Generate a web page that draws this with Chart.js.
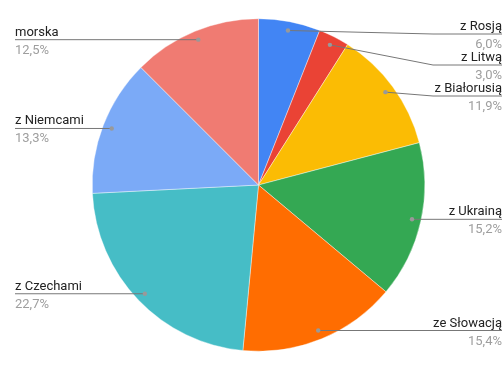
<!DOCTYPE html>
<html>
<head>
<meta charset="utf-8">
<script src="https://cdn.jsdelivr.net/npm/chart.js@4"></script>
<style>
  body { margin: 0; background: #fff; }
</style>
</head>
<body>
<canvas id="my-chart" width="504" height="371"></canvas>
<script>
const borderNames = ['z Rosją', 'z Litwą', 'z Białorusią', 'z Ukrainą', 'ze Słowacją', 'z Czechami', 'z Niemcami', 'morska'];
const borderShares = [6.0, 3.0, 11.9, 15.2, 15.4, 22.7, 13.3, 12.5];
const sliceColors = ['#4285F4', '#EA4335', '#FBBC04', '#34A853', '#FF6D01', '#46BDC6', '#7BAAF7', '#F07B72'];

// labels with leader lines, like the google sheets pie
const leaderLabels = {
  id: 'leaderLabels',
  afterDraw(chart) {
    const ctx = chart.ctx;
    const meta = chart.getDatasetMeta(0);
    const items = meta.data.map((arc, i) => {
      const p = arc.getProps(['x', 'y', 'startAngle', 'endAngle', 'outerRadius'], true);
      const mid = (p.startAngle + p.endAngle) / 2;
      const r = p.outerRadius - 9;
      const dx = p.x + Math.cos(mid) * r;
      const dy = p.y + Math.sin(mid) * r;
      return { i, dx, dy, right: Math.cos(mid) >= 0, ly: dy };
    });

    [true, false].forEach(side => {
      const list = items.filter(it => it.right === side).sort((a, b) => a.dy - b.dy);
      let prev = -Infinity;
      list.forEach(it => {
        it.ly = Math.max(it.dy, 34, prev + 31);
        prev = it.ly;
      });
    });

    ctx.save();
    items.forEach(it => {
      const endX = it.right ? 502 : 15;
      const elbowX = it.right ? 433 : 80;
      ctx.strokeStyle = '#777';
      ctx.lineWidth = 1;
      ctx.beginPath();
      ctx.moveTo(it.dx, it.dy);
      if (Math.abs(it.ly - it.dy) > 0.5) ctx.lineTo(elbowX, it.ly);
      ctx.lineTo(endX, it.ly);
      ctx.stroke();

      ctx.fillStyle = '#999';
      ctx.beginPath();
      ctx.arc(it.dx, it.dy, 2.2, 0, Math.PI * 2);
      ctx.fill();

      ctx.textAlign = it.right ? 'right' : 'left';
      ctx.textBaseline = 'alphabetic';
      ctx.font = '13px Roboto';
      ctx.fillStyle = '#222';
      ctx.fillText(borderNames[it.i], endX, it.ly - 4);
      ctx.fillStyle = '#9e9e9e';
      ctx.fillText(borderShares[it.i].toFixed(1).replace('.', ',') + '%', endX, it.ly + 14);
    });
    ctx.restore();
  }
};

const ctx = document.getElementById('my-chart').getContext('2d');
const chart = new Chart(ctx, {
  type: 'pie',
  data: {
    labels: borderNames,
    datasets: [
      {
        data: borderShares,
        backgroundColor: sliceColors,
        borderColor: '#fff',
        borderWidth: 0.4
      }
    ]
  },
  options: {
    responsive: false,
    animation: false,
    layout: { padding: { left: 92, right: 79, top: 18, bottom: 19 } },
    plugins: {
      legend: { display: false },
      tooltip: { enabled: false }
    }
  },
  plugins: [leaderLabels]
});
</script>
</body>
</html>
